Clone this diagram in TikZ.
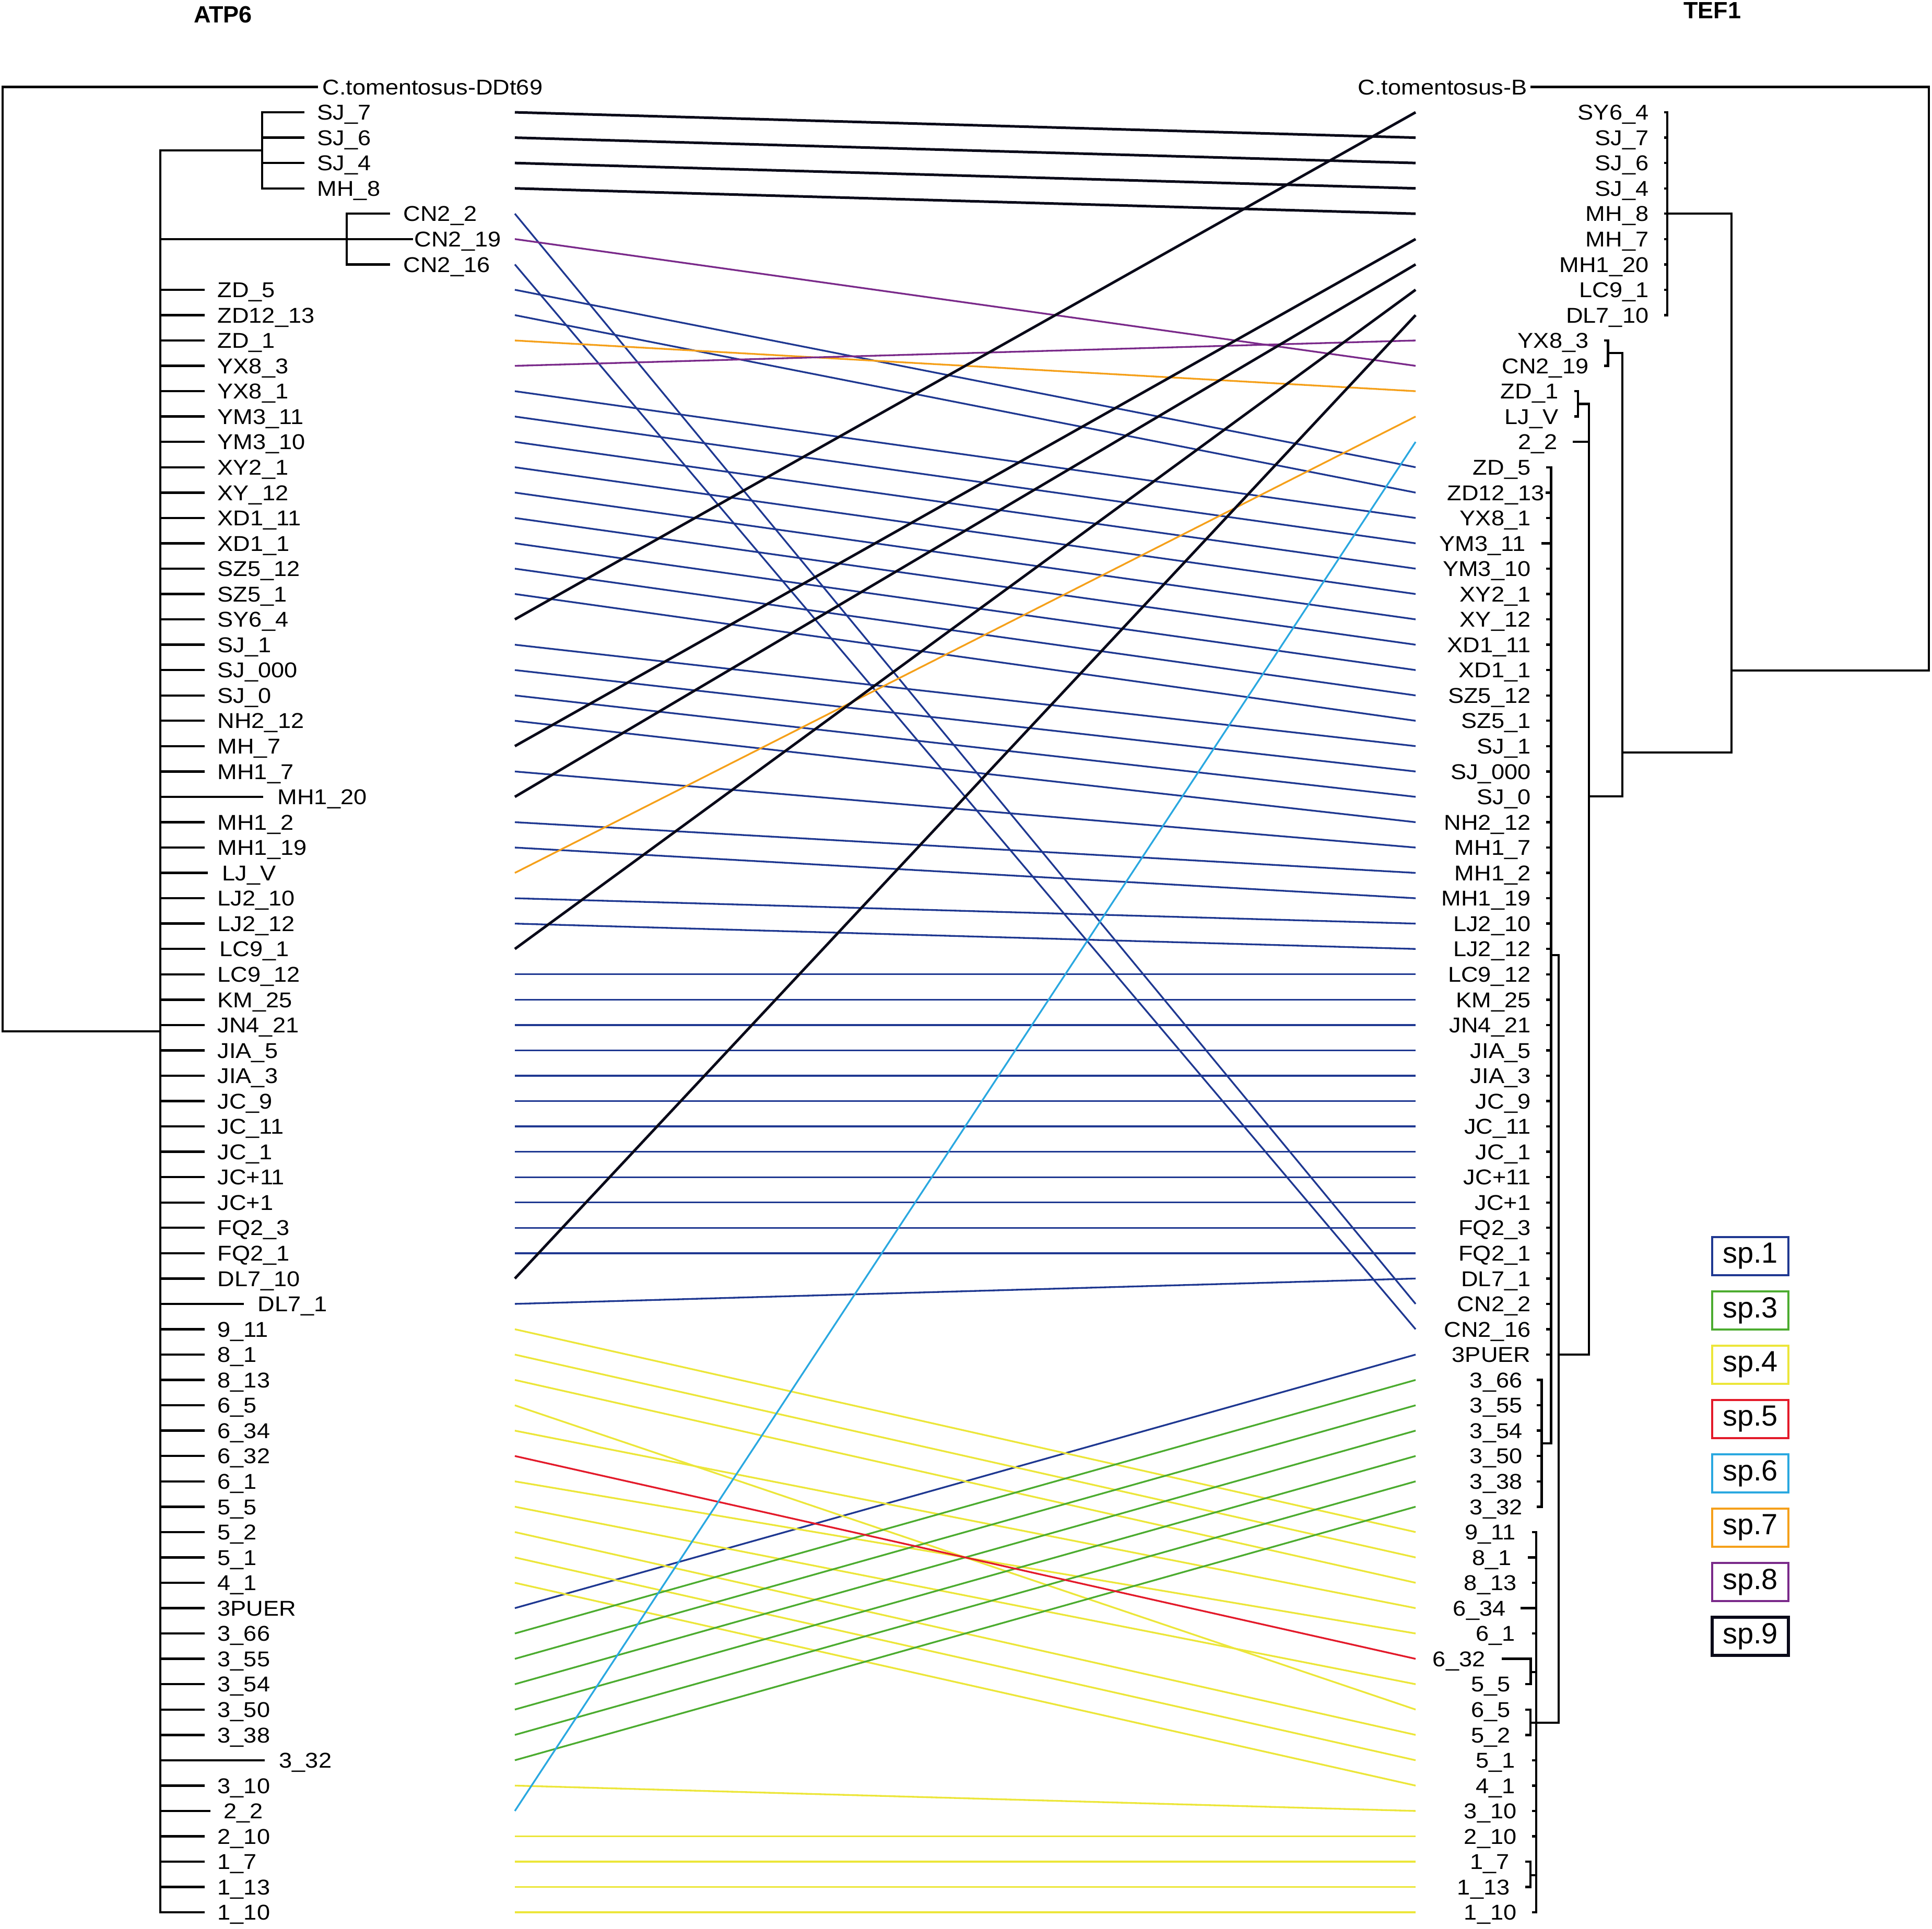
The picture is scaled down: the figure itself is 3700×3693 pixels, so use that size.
\documentclass[tikz,border=0pt]{standalone}
\usepackage{fontspec}
\setmainfont{Liberation Sans}
\newfontfamily\lbf{Liberation Sans}[FakeStretch=1.1]
\definecolor{cNavy}{HTML}{1F3891}
\definecolor{cGreen}{HTML}{4CAC30}
\definecolor{cYellow}{HTML}{ECE63A}
\definecolor{cRed}{HTML}{E31A2A}
\definecolor{cCyan}{HTML}{2AA8E0}
\definecolor{cOrange}{HTML}{F5A01A}
\definecolor{cPurple}{HTML}{7A2A8A}
\definecolor{cBlack}{HTML}{0A0A19}
\pgfmathdeclarefunction{ry}{1}{\pgfmathparse{166.5+(#1-1)*48.55}}
\begin{document}
\begin{tikzpicture}[x=0.01cm,y=-0.01cm,
  tree/.style={line width=1.25pt,line cap=rect,draw=black},
  lab/.style={font=\lbf\fontsize{11.67pt}{14pt}\selectfont,inner sep=0pt},
  conn/.style={line width=0.95pt},
  blk/.style={line width=1.42pt,draw=cBlack},
  legbox/.style={line width=1.1pt,minimum width=1.46cm,minimum height=0.73cm,inner sep=0pt,font=\fontsize{15.9pt}{18pt}\selectfont},
  ttl/.style={font=\bfseries\fontsize{12.8pt}{15pt}\selectfont,inner sep=0pt}]
\useasboundingbox (0,0) rectangle (3700,3693);
% titles
\node[ttl] (tATP) at (427,28) {ATP6};
\node[ttl] (tTEF) at (3279,20) {TEF1};
% connector end points
\foreach \i in {1,...,73}{
  \coordinate (la\i) at (986,{ry(\i)});
  \coordinate (ra\i) at (2711,{ry(\i)});
}
% ---------------- left tree ----------------
\draw[tree] (5,{ry(1)}) -- (607,{ry(1)});
\draw[tree] (5,{ry(1)}) -- (5,1975) -- (307,1975);
\draw[tree] (307,288) -- (307,{ry(73)});
\draw[tree] (307,288) -- (502,288);
\draw[tree] (502,{ry(2)}) -- (502,{ry(5)});
\foreach \r in {2,...,5} \draw[tree] (502,{ry(\r)}) -- (581,{ry(\r)});
\draw[tree] (307,{ry(7)}) -- (789,{ry(7)});
\draw[tree] (664,{ry(6)}) -- (664,{ry(8)});
\draw[tree] (664,{ry(6)}) -- (745,{ry(6)});
\draw[tree] (664,{ry(8)}) -- (745,{ry(8)});
\node[lab,anchor=base west] (L1) at (617,{ry(1)+14.7}) {C.tomentosus-DDt69};
\foreach \r/\t in {2/SJ\_7,3/SJ\_6,4/SJ\_4,5/MH\_8}
  \node[lab,anchor=base west] (L\r) at (607,{ry(\r)+14.7}) {\t};
\node[lab,anchor=base west] (L6) at (772,{ry(6)+14.7}) {CN2\_2};
\node[lab,anchor=base west] (L7) at (793,{ry(7)+14.7}) {CN2\_19};
\node[lab,anchor=base west] (L8) at (772,{ry(8)+14.7}) {CN2\_16};
\foreach \r/\e/\lx/\t in {9/390/416/ZD\_5,10/390/416/ZD12\_13,11/390/416/ZD\_1,12/390/416/YX8\_3,
  13/390/416/YX8\_1,14/390/416/YM3\_11,15/390/416/YM3\_10,16/390/416/XY2\_1,17/390/416/XY\_12,
  18/390/416/XD1\_11,19/390/416/XD1\_1,20/390/416/SZ5\_12,21/390/416/SZ5\_1,22/390/416/SY6\_4,
  23/390/416/SJ\_1,24/390/416/SJ\_000,25/390/416/SJ\_0,26/390/416/NH2\_12,27/390/416/MH\_7,
  28/390/416/MH1\_7,29/502/531/MH1\_20,30/390/416/MH1\_2,31/390/416/MH1\_19,32/396/425/LJ\_V,
  33/390/416/LJ2\_10,34/390/416/LJ2\_12,35/391/420/LC9\_1,36/390/416/LC9\_12,37/390/416/KM\_25,
  38/390/416/JN4\_21,39/390/416/JIA\_5,40/390/416/JIA\_3,41/390/416/JC\_9,42/390/416/JC\_11,
  43/390/416/JC\_1,44/390/416/JC+11,45/390/416/JC+1,46/390/416/FQ2\_3,47/390/416/FQ2\_1,
  48/390/416/DL7\_10,49/465/493/DL7\_1,50/390/416/9\_11,51/390/416/8\_1,52/390/416/8\_13,
  53/390/416/6\_5,54/390/416/6\_34,55/390/416/6\_32,56/390/416/6\_1,57/390/416/5\_5,
  58/390/416/5\_2,59/390/416/5\_1,60/390/416/4\_1,61/390/416/3PUER,62/390/416/3\_66,
  63/390/416/3\_55,64/390/416/3\_54,65/390/416/3\_50,66/390/416/3\_38,67/505/534/3\_32,
  68/390/416/3\_10,69/401/428/2\_2,70/390/416/2\_10,71/390/416/1\_7,72/390/416/1\_13,73/390/416/1\_10}{
  \draw[tree] (307,{ry(\r)}) -- (\e,{ry(\r)});
  \node[lab,anchor=base west] (L\r) at (\lx,{ry(\r)+14.7}) {\t};
}
% ---------------- right tree ----------------
\draw[tree] (2933,{ry(1)}) -- (3694,{ry(1)}) -- (3694,1284) -- (3316,1284);
\draw[tree] (3316,{ry(6)}) -- (3316,1441);
\draw[tree] (3193,{ry(6)}) -- (3316,{ry(6)});
\draw[tree] (3193,{ry(2)}) -- (3193,{ry(10)});
\draw[tree] (3107,1441) -- (3316,1441);
\draw[tree] (3107,676.2) -- (3107,1525);
\draw[tree] (3079.5,676.2) -- (3107,676.2);
\draw[tree] (3079.5,{ry(11)}) -- (3079.5,{ry(12)});
\draw[tree] (3043,1525) -- (3107,1525);
\draw[tree] (3043,773.3) -- (3043,2594);
\draw[tree] (3022,773.3) -- (3043,773.3);
\draw[tree] (3022,{ry(13)}) -- (3022,{ry(14)});
\draw[tree] (2985,2594) -- (3043,2594);
\draw[tree] (2985,1829) -- (2985,3299);
\draw[tree] (2970.5,1829) -- (2985,1829);
\draw[tree] (2931,3299) -- (2985,3299);
\draw[tree] (2970.5,{ry(16)}) -- (2970.5,2764);
\draw[tree] (2952.6,2764) -- (2970.5,2764);
\draw[tree] (2952.6,{ry(52)}) -- (2952.6,{ry(57)});
\draw[tree] (2942,{ry(58)}) -- (2942,{ry(73)});
\draw[tree] (2931.5,{ry(63)}) -- (2931.5,{ry(64)});
\draw[tree] (2931.5,3202) -- (2942,3202);
\draw[tree] (2931,{ry(65)}) -- (2931,{ry(66)});
\draw[tree] (2931,{ry(71)}) -- (2931,{ry(72)});
\draw[tree] (2931,3591) -- (2942,3591);
% right ticks
\foreach \r/\s/\e in {2/3189/3193,3/3189/3193,4/3189/3193,5/3189/3193,6/3189/3193,7/3189/3193,
  8/3189/3193,9/3189/3193,10/3189/3193,11/3074/3079.5,12/3074/3079.5,13/3017/3022,14/3017/3022,
  15/3014/3043,16/2963/2970.5,17/2962/2970.5,18/2963/2970.5,19/2954.5/2970.5,20/2963/2970.5,
  21/2963/2970.5,22/2963/2970.5,23/2963/2970.5,24/2963/2970.5,25/2963/2970.5,26/2963/2970.5,
  27/2963/2970.5,28/2963/2970.5,29/2963/2970.5,30/2963/2970.5,31/2963/2970.5,32/2963/2970.5,
  33/2963/2970.5,34/2963/2970.5,35/2963/2970.5,36/2963/2970.5,37/2963/2970.5,38/2963/2970.5,
  39/2963/2970.5,40/2963/2970.5,41/2963/2970.5,42/2963/2970.5,43/2963/2970.5,44/2963/2970.5,
  45/2963/2970.5,46/2963/2970.5,47/2963/2970.5,48/2963/2970.5,49/2963/2970.5,50/2963/2970.5,
  51/2963/2970.5,52/2945/2952.6,53/2945/2952.6,54/2945/2952.6,55/2945/2952.6,56/2945/2952.6,
  57/2945/2952.6,58/2936/2942,59/2927.7/2942,60/2936/2942,61/2914/2942,62/2936/2942,
  63/2878/2931.5,64/2923/2931.5,65/2923/2931,66/2923/2931,67/2936/2942,68/2936/2942,
  69/2936/2942,70/2936/2942,71/2923/2931,72/2923/2931,73/2936/2942}
  \draw[tree] (\s,{ry(\r)}) -- (\e,{ry(\r)});
% right labels
\foreach \r/\x/\t in {1/2925/C.tomentosus-B,2/3158/SY6\_4,3/3158/SJ\_7,4/3158/SJ\_6,5/3158/SJ\_4,
  6/3158/MH\_8,7/3158/MH\_7,8/3158/MH1\_20,9/3158/LC9\_1,10/3158/DL7\_10,11/3043/YX8\_3,
  12/3043/CN2\_19,13/2985/ZD\_1,14/2985/LJ\_V,15/2983/2\_2,16/2932/ZD\_5,17/2958/ZD12\_13,
  18/2932/YX8\_1,19/2922/YM3\_11,20/2932/YM3\_10,21/2932/XY2\_1,22/2932/XY\_12,23/2932/XD1\_11,
  24/2932/XD1\_1,25/2932/SZ5\_12,26/2932/SZ5\_1,27/2932/SJ\_1,28/2932/SJ\_000,29/2932/SJ\_0,
  30/2932/NH2\_12,31/2932/MH1\_7,32/2932/MH1\_2,33/2932/MH1\_19,34/2932/LJ2\_10,35/2932/LJ2\_12,
  36/2932/LC9\_12,37/2932/KM\_25,38/2932/JN4\_21,39/2932/JIA\_5,40/2932/JIA\_3,41/2932/JC\_9,
  42/2932/JC\_11,43/2932/JC\_1,44/2932/JC+11,45/2932/JC+1,46/2932/FQ2\_3,47/2932/FQ2\_1,
  48/2932/DL7\_1,49/2932/CN2\_2,50/2932/CN2\_16,51/2932/3PUER,52/2916/3\_66,53/2916/3\_55,
  54/2916/3\_54,55/2916/3\_50,56/2916/3\_38,57/2916/3\_32,58/2903/9\_11,59/2895/8\_1,
  60/2905/8\_13,61/2884/6\_34,62/2902/6\_1,63/2845/6\_32,64/2893/5\_5,65/2893/6\_5,66/2893/5\_2,
  67/2902/5\_1,68/2902/4\_1,69/2905/3\_10,70/2905/2\_10,71/2891/1\_7,72/2892/1\_13,73/2905/1\_10}
  \node[lab,anchor=base east] (R\r) at (\x,{ry(\r)+14.7}) {\t};
% ---------------- connectors ----------------
\foreach \a/\b in {6/49,8/50,9/16,10/17,13/18,14/19,15/20,16/21,17/22,18/23,19/24,20/25,21/26,
  23/27,24/28,25/29,26/30,28/31,30/32,31/33,33/34,34/35,36/36,37/37,38/38,39/39,40/40,41/41,
  42/42,43/43,44/44,45/45,46/46,47/47,49/48,61/51}
  \draw[conn,cNavy] (la\a) -- (ra\b);
\foreach \a/\b in {50/58,51/59,52/60,53/65,54/61,56/62,57/64,58/66,59/67,60/68,68/69,70/70,
  71/71,72/72,73/73}
  \draw[conn,cYellow] (la\a) -- (ra\b);
\foreach \a/\b in {62/52,63/53,64/54,65/55,66/56,67/57}
  \draw[conn,cGreen] (la\a) -- (ra\b);
\draw[conn,cRed] (la55) -- (ra63);
\draw[conn,cCyan] (la69) -- (ra15);
\draw[conn,cOrange] (la11) -- (ra13);
\draw[conn,cOrange] (la32) -- (ra14);
\draw[conn,cPurple] (la7) -- (ra12);
\draw[conn,cPurple] (la12) -- (ra11);
\foreach \a/\b in {2/3,3/4,4/5,5/6,22/2,27/7,29/8,35/9,48/10}
  \draw[blk] (la\a) -- (ra\b);
% ---------------- legend ----------------
\foreach \k/\c/\t in {0/cNavy/sp.1,1/cGreen/sp.3,2/cYellow/sp.4,3/cRed/sp.5,4/cCyan/sp.6,
  5/cOrange/sp.7,6/cPurple/sp.8}
  \node[legbox,draw=\c] (leg\k) at (3352,{2405.5+\k*104}) {\t};
\node[legbox,draw=cBlack,line width=1.7pt] (leg7) at (3352,{2405.5+7*104}) {sp.9};
\end{tikzpicture}
\end{document}
